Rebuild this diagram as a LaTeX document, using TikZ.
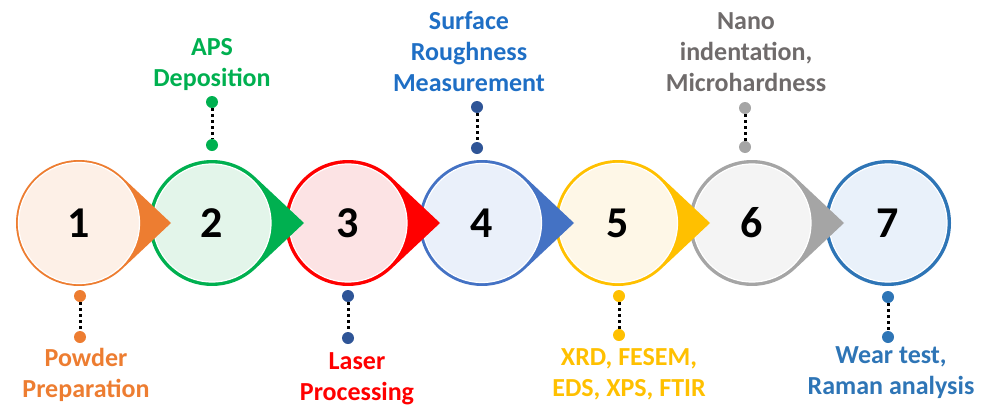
\documentclass[tikz,border=0pt]{standalone}
\usepackage{fontspec}
\setmainfont{Carlito}
\definecolor{cOne}{HTML}{ED7D31}\definecolor{lOne}{HTML}{FDF0E7}
\definecolor{cTwo}{HTML}{00B050}\definecolor{lTwo}{HTML}{E3F5EA}
\definecolor{cThree}{HTML}{FF0000}\definecolor{lThree}{HTML}{FCE3E4}
\definecolor{cFour}{HTML}{4472C4}\definecolor{lFour}{HTML}{EAF0FA}
\definecolor{cFive}{HTML}{FFC000}\definecolor{lFive}{HTML}{FEF7E7}
\definecolor{cSix}{HTML}{A5A5A5}\definecolor{lSix}{HTML}{F4F4F4}
\definecolor{cSeven}{HTML}{2E75B6}\definecolor{lSeven}{HTML}{E9F1FA}
\definecolor{dBlue}{HTML}{2F5597}
\definecolor{tBlue}{HTML}{1F6FC5}
\definecolor{tGray}{HTML}{6F6B6B}
\definecolor{tOrange}{HTML}{ED7D31}
\definecolor{tGold}{HTML}{FFC000}
\definecolor{tWear}{HTML}{2E75B6}
\tikzset{
  numtext/.style={font=\fontsize{44}{48}\selectfont\bfseries, text=black},
  label/.style={font=\fontsize{26}{31}\selectfont\bfseries, align=center, inner sep=0pt},
  pin/.style={circle, inner sep=0pt, minimum size=12pt},
  dotline/.style={line width=3pt, dash pattern=on 3pt off 3pt, black}
}
\newcommand{\stepdrop}[4]{% x, color, light, inner radius
  \begin{scope}[shift={(#1,223)}]
    \fill[#2] (92pt,0pt) -- (46.8:63pt) arc[start angle=46.8, end angle=313.2, radius=63pt] -- cycle;
    \fill[#3, draw=white, line width=1.2pt] (0,0) circle[radius=#4];
  \end{scope}
}
\newcommand{\stepring}[3]{% x, color, light
  \begin{scope}[shift={(#1,223)}]
    \fill[#2] (0,0) circle[radius=63pt];
    \fill[#3, draw=white, line width=1.2pt] (0,0) circle[radius=59pt];
  \end{scope}
}
\begin{document}
\begin{tikzpicture}[x=1pt,y=-1pt]
\useasboundingbox (0,0) rectangle (989,410);
% circles, right to left so each tip lies on the next circle
\stepring{888}{cSeven}{lSeven}
\stepdrop{752}{cSix}{lSix}{59pt}
\stepdrop{618}{cFive}{lFive}{59.5pt}
\stepdrop{482}{cFour}{lFour}{59.5pt}
\stepdrop{348}{cThree}{lThree}{59pt}
\stepdrop{212}{cTwo}{lTwo}{59pt}
\stepdrop{79}{cOne}{lOne}{60.5pt}
\node[numtext] (n1) at (79,223) {1};
\node[numtext] (n2) at (212,223) {2};
\node[numtext] (n3) at (348,223) {3};
\node[numtext] (n4) at (482,223) {4};
\node[numtext] (n5) at (618,223) {5};
\node[numtext] (n6) at (752,223) {6};
\node[numtext] (n7) at (888,223) {7};
% top connectors
\node[pin, fill=cTwo] (t2a) at (212,102) {};
\node[pin, fill=cTwo] (t2b) at (212,145) {};
\draw[dotline] (t2a) -- (t2b);
\node[pin, fill=dBlue] (t4a) at (477,107) {};
\node[pin, fill=dBlue] (t4b) at (477,148) {};
\draw[dotline] (t4a) -- (t4b);
\node[pin, fill=cSix] (t6a) at (745,108) {};
\node[pin, fill=cSix] (t6b) at (745,147) {};
\draw[dotline] (t6a) -- (t6b);
% bottom connectors
\node[pin, fill=cOne] (b1a) at (80,296) {};
\node[pin, fill=cOne] (b1b) at (80,337) {};
\draw[dotline] (b1a) -- (b1b);
\node[pin, fill=dBlue] (b3a) at (348,296) {};
\node[pin, fill=dBlue] (b3b) at (348,338) {};
\draw[dotline] (b3a) -- (b3b);
\node[pin, fill=cFive] (b5a) at (619,296) {};
\node[pin, fill=cFive] (b5b) at (619,335) {};
\draw[dotline] (b5a) -- (b5b);
\node[pin, fill=cSeven] (b7a) at (888,297) {};
\node[pin, fill=cSeven] (b7b) at (888,337) {};
\draw[dotline] (b7a) -- (b7b);
% labels
\node[label, text=cTwo] (l2) at (212,65) {APS\\Deposition};
\node[label, text=tBlue] (l4) at (469,52) {Surface\\Roughness\\Measurement};
\node[label, text=tGray] (l6) at (746,52) {Nano\\indentation,\\Microhardness};
\node[label, text=tOrange] (l1) at (86,375) {Powder\\Preparation};
\node[label, text=cThree] (l3) at (357,379) {Laser\\Processing};
\node[label, text=tGold] (l5) at (629,374) {XRD, FESEM,\\EDS, XPS, FTIR};
\node[label, text=tWear] (l7) at (891,373) {Wear test,\\Raman analysis};
\end{tikzpicture}
\end{document}
